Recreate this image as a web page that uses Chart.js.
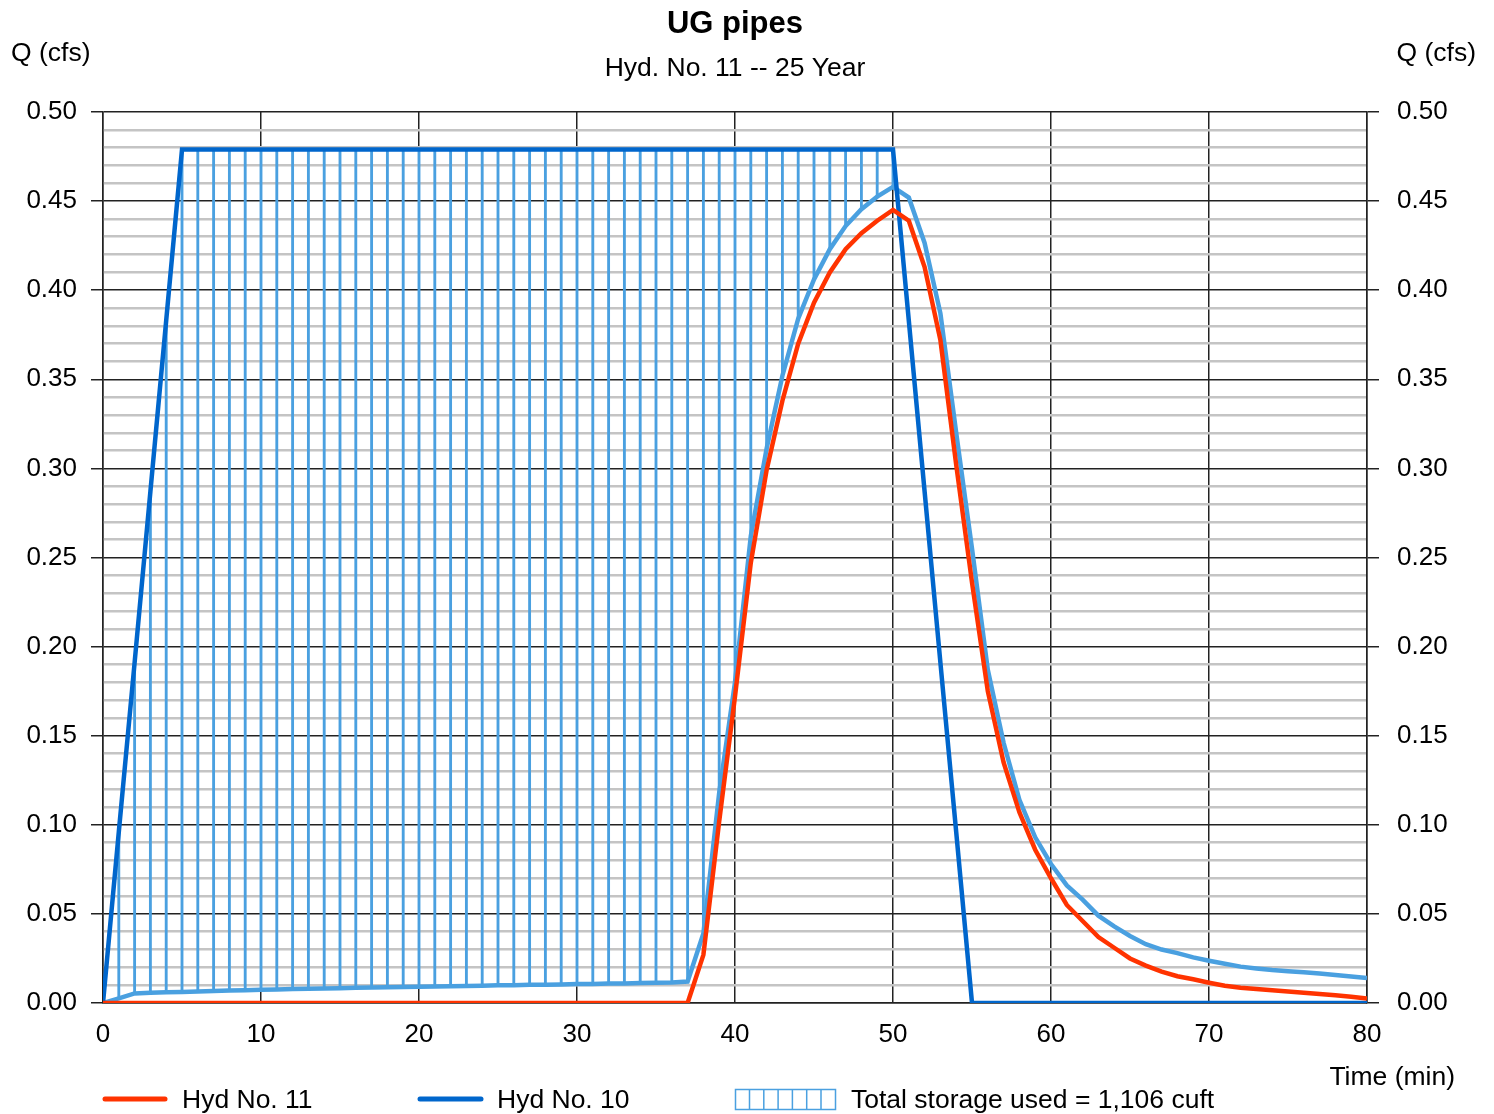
<!DOCTYPE html>
<html>
<head>
<meta charset="utf-8">
<title>UG pipes</title>
<script src="https://cdn.jsdelivr.net/npm/chart.js@4.4.1/dist/chart.umd.min.js"></script>
<style>
  body { margin: 0; background: #fff; }
  #chart { display: block; }
</style>
</head>
<body>
<canvas id="chart" width="1494" height="1114"></canvas>
<script>
// time in minutes, one value per minute
const minutes = Array.from({ length: 81 }, (_, i) => i);

// Hyd No. 10 (inflow), cfs
const hyd10 = [
  0, 0.096, 0.191, 0.287, 0.383, 0.479, 0.479, 0.479, 0.479, 0.479,
  0.479, 0.479, 0.479, 0.479, 0.479, 0.479, 0.479, 0.479, 0.479, 0.479,
  0.479, 0.479, 0.479, 0.479, 0.479, 0.479, 0.479, 0.479, 0.479, 0.479,
  0.479, 0.479, 0.479, 0.479, 0.479, 0.479, 0.479, 0.479, 0.479, 0.479,
  0.479, 0.479, 0.479, 0.479, 0.479, 0.479, 0.479, 0.479, 0.479, 0.479,
  0.479, 0.383, 0.287, 0.191, 0.096, 0, 0, 0, 0, 0,
  0, 0, 0, 0, 0, 0, 0, 0, 0, 0,
  0, 0, 0, 0, 0, 0, 0, 0, 0, 0,
  0
];

// Hyd No. 11 (outflow), cfs
const hyd11 = [
  0, 0, 0, 0, 0, 0, 0, 0, 0, 0,
  0, 0, 0, 0, 0, 0, 0, 0, 0, 0,
  0, 0, 0, 0, 0, 0, 0, 0, 0, 0,
  0, 0, 0, 0, 0, 0, 0, 0, 0.027, 0.102,
  0.172, 0.247, 0.299, 0.338, 0.370, 0.393, 0.410, 0.423, 0.432, 0.439,
  0.445, 0.439, 0.413, 0.372, 0.302, 0.236, 0.175, 0.135, 0.107, 0.086,
  0.070, 0.055, 0.046, 0.037, 0.031, 0.025, 0.021, 0.0176, 0.015, 0.0133,
  0.0114, 0.0097, 0.0086, 0.0078, 0.0071, 0.0064, 0.0058, 0.0050, 0.0043, 0.0035,
  0.0025
];

// lower edge of the storage area, cfs
const storageEdge = [
  0, 0.0026, 0.0054, 0.0057, 0.0060, 0.0062, 0.0065, 0.0067, 0.0070, 0.0072,
  0.0074, 0.0076, 0.0078, 0.0080, 0.0081, 0.0083, 0.0085, 0.0087, 0.0088, 0.0090,
  0.0091, 0.0093, 0.0094, 0.0096, 0.0097, 0.0099, 0.0100, 0.0102, 0.0103, 0.0104,
  0.0106, 0.0107, 0.0109, 0.0110, 0.0112, 0.0113, 0.0115, 0.0120, 0.039, 0.118,
  0.180, 0.262, 0.311, 0.352, 0.384, 0.406, 0.423, 0.436, 0.4455, 0.4525,
  0.458, 0.452, 0.4265, 0.387, 0.320, 0.255, 0.187, 0.146, 0.114, 0.093,
  0.078, 0.066, 0.058, 0.049, 0.043, 0.0376, 0.033, 0.030, 0.028, 0.0256,
  0.0237, 0.022, 0.0204, 0.0194, 0.0185, 0.0178, 0.0172, 0.0165, 0.0157, 0.0149,
  0.014
];

const chartTitle = "UG pipes";
const chartSubtitle = "Hyd. No. 11 -- 25 Year";
const yTitle = "Q (cfs)";
const xTitle = "Time (min)";
const legendLabels = ["Hyd No. 11", "Hyd No. 10", "Total storage used = 1,106 cuft"];

const RED = '#ff3300';
const BLUE = '#0066cc';
const LIGHT = '#4aa0e0';
const FONT = "'Liberation Sans', Arial, sans-serif";

Chart.defaults.font.family = FONT;
Chart.defaults.color = '#000';

const toPoints = arr => minutes.map(t => ({ x: t, y: arr[t] }));

// vertical hatch: one thin floating bar per minute between the two curves
const hatch = minutes
  .filter(t => hyd10[t] > storageEdge[t])
  .map(t => ({ x: t, y: [storageEdge[t], hyd10[t]] }));

const isMajor = v => Math.round(v * 100) % 5 === 0;

const yGrid = {
  color: c => isMajor(c.tick.value) ? '#222' : '#c4c4c4',
  lineWidth: c => isMajor(c.tick.value) ? 1.5 : 2.5,
  tickColor: c => isMajor(c.tick.value) ? '#222' : 'rgba(0,0,0,0)',
  tickWidth: 1.5,
  tickLength: 12
};

const yTicks = {
  stepSize: 0.01,
  autoSkip: false,
  font: { size: 26 },
  callback: v => isMajor(v) ? v.toFixed(2) : ''
};

const textPlugin = {
  id: 'texts',
  afterDraw(chart) {
    const { ctx, chartArea } = chart;
    const cx = (chartArea.left + chartArea.right) / 2;
    ctx.save();
    ctx.fillStyle = '#000';
    ctx.textBaseline = 'alphabetic';

    ctx.textAlign = 'center';
    ctx.font = 'bold 31px ' + FONT;
    ctx.fillText(chartTitle, cx, 33);
    ctx.font = '26.5px ' + FONT;
    ctx.fillText(chartSubtitle, cx, 76);

    ctx.textAlign = 'left';
    ctx.fillText(yTitle, 11, 61);
    ctx.textAlign = 'right';
    ctx.fillText(yTitle, 1476, 61);
    ctx.fillText(xTitle, 1455, 1085);

    // legend
    ctx.textAlign = 'left';
    ctx.lineCap = 'round';
    ctx.lineWidth = 5;
    ctx.strokeStyle = RED;
    ctx.beginPath(); ctx.moveTo(105, 1099); ctx.lineTo(165, 1099); ctx.stroke();
    ctx.fillText(legendLabels[0], 182, 1108);
    ctx.strokeStyle = BLUE;
    ctx.beginPath(); ctx.moveTo(420, 1099); ctx.lineTo(481, 1099); ctx.stroke();
    ctx.fillText(legendLabels[1], 497, 1108);

    ctx.lineCap = 'butt';
    ctx.lineWidth = 1.5;
    ctx.strokeStyle = LIGHT;
    ctx.strokeRect(735.5, 1089.5, 100, 20);
    ctx.beginPath();
    for (let x = 749.5; x < 835; x += 14.3) {
      ctx.moveTo(x, 1090); ctx.lineTo(x, 1109);
    }
    ctx.stroke();
    ctx.fillText(legendLabels[2], 851, 1108);
    ctx.restore();
  }
};

new Chart(document.getElementById('chart'), {
  type: 'line',
  data: {
    datasets: [
      {
        label: legendLabels[0],
        data: toPoints(hyd11),
        borderColor: RED,
        borderWidth: 4.5,
        pointRadius: 0,
        tension: 0,
        order: 1
      },
      {
        label: legendLabels[1],
        data: toPoints(hyd10),
        borderColor: BLUE,
        borderWidth: 4.5,
        pointRadius: 0,
        tension: 0,
        order: 2
      },
      {
        label: 'storage edge',
        data: toPoints(storageEdge),
        borderColor: LIGHT,
        borderWidth: 4.5,
        pointRadius: 0,
        tension: 0,
        order: 3
      },
      {
        type: 'bar',
        label: legendLabels[2],
        data: hatch,
        backgroundColor: LIGHT,
        borderWidth: 0,
        barThickness: 2.2,
        grouped: false,
        order: 4
      }
    ]
  },
  options: {
    responsive: false,
    animation: false,
    devicePixelRatio: 1,
    layout: { padding: { top: 112, left: 0, right: 0, bottom: 0 } },
    plugins: {
      legend: { display: false },
      title: { display: false },
      tooltip: { enabled: false }
    },
    scales: {
      x: {
        type: 'linear',
        min: 0,
        max: 80,
        offset: false,
        grid: { offset: false, color: '#222', lineWidth: 1.5, drawTicks: false },
        border: { color: '#222', width: 1.5 },
        ticks: { stepSize: 10, padding: 16, font: { size: 26 }, maxRotation: 0 },
        afterFit: s => { s.height = 111; }
      },
      y: {
        position: 'left',
        min: 0,
        max: 0.5,
        grid: yGrid,
        border: { color: '#222', width: 1.5 },
        ticks: Object.assign({ padding: 14 }, yTicks),
        afterFit: s => { s.width = 103; }
      },
      y2: {
        position: 'right',
        display: true,
        min: 0,
        max: 0.5,
        grid: Object.assign({ drawOnChartArea: false }, yGrid),
        border: { color: '#222', width: 1.5 },
        ticks: Object.assign({ padding: 18 }, yTicks),
        afterFit: s => { s.width = 127; }
      }
    }
  },
  plugins: [textPlugin]
});
</script>
</body>
</html>
